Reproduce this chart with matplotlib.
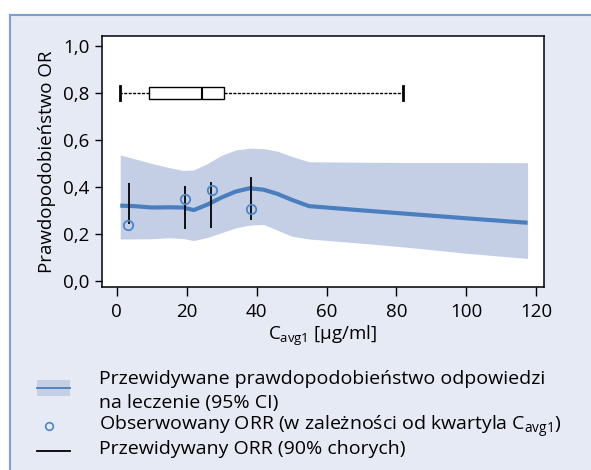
import matplotlib
matplotlib.use("Agg")
import matplotlib.pyplot as plt
from matplotlib.patches import Rectangle
from matplotlib.lines import Line2D
from matplotlib.ticker import FuncFormatter

FONT = "Open Sans"
plt.rcParams['font.family'] = [FONT, 'DejaVu Sans']
plt.rcParams['mathtext.fontset'] = 'custom'
plt.rcParams['mathtext.rm'] = FONT
plt.rcParams['mathtext.it'] = FONT
plt.rcParams['mathtext.bf'] = FONT

# ---- data ----
curve_x = [1, 5, 10, 15, 19, 22, 26, 30, 34, 38, 42, 46, 50, 55, 70, 85, 100, 117.5]
pred = [0.320, 0.318, 0.312, 0.313, 0.312, 0.301, 0.325, 0.355, 0.380, 0.394,
        0.388, 0.370, 0.345, 0.318, 0.300, 0.283, 0.266, 0.247]
upper = [0.536, 0.520, 0.500, 0.482, 0.470, 0.472, 0.500, 0.535, 0.557, 0.565,
         0.563, 0.552, 0.530, 0.507, 0.505, 0.504, 0.504, 0.503]
lower = [0.178, 0.178, 0.179, 0.183, 0.180, 0.171, 0.185, 0.205, 0.225, 0.237,
         0.240, 0.215, 0.190, 0.178, 0.160, 0.140, 0.117, 0.095]

obs_x = [3.2, 19.5, 27.3, 38.3]
obs_y = [0.236, 0.349, 0.385, 0.304]

bar_x = [3.4, 19.4, 27.1, 38.3]
bar_lo = [0.240, 0.219, 0.223, 0.259]
bar_hi = [0.415, 0.403, 0.422, 0.443]

box_stats = dict(whislo=1.0, q1=9.3, med=24.3, q3=30.6, whishi=82.0)
box_pos = 0.8

xticks = [0, 20, 40, 60, 80, 100, 120]
yticks = [0.0, 0.2, 0.4, 0.6, 0.8, 1.0]

legend_labels = [
    "Przewidywane prawdopodobieństwo odpowiedzi",
    "na leczenie (95% CI)",
    r"Obserwowany ORR (w zależności od kwartyla C$_{\mathregular{avg1}}$)",
    "Przewidywany ORR (90% chorych)",
]

# ---- style ----
PANEL = "#e6eaf5"
BORDER = "#7aa0d3"
BAND = "#c4cfe6"
LINE = "#4a7fbf"
CIRC = "#4a86c8"

W, H = 591, 470
fig = plt.figure(figsize=(W / 100, H / 100), dpi=100, facecolor="white")

def fx(px):
    return px / W

def fy(py):
    return 1 - py / H

# panel background
fig.add_artist(Rectangle((fx(10), 0), 1 - fx(10), fy(15), transform=fig.transFigure,
                         facecolor=PANEL, edgecolor="none", zorder=0))
fig.add_artist(Line2D([fx(10), fx(10)], [0, fy(15)], transform=fig.transFigure,
                      color=BORDER, lw=1.5, zorder=1))
fig.add_artist(Line2D([fx(10), 1], [fy(15), fy(15)], transform=fig.transFigure,
                      color=BORDER, lw=1.5, zorder=1))

ax = fig.add_axes([fx(101.7), fy(287.3), fx(544) - fx(101.7), fy(36) - fy(287.3)])
ax.set_facecolor("white")

ax.fill_between(curve_x, lower, upper, color=BAND, lw=0, zorder=1)
ax.plot(curve_x, pred, color=LINE, lw=3, solid_capstyle="butt", zorder=3)
ax.vlines(bar_x, bar_lo, bar_hi, color="black", lw=1.3, zorder=4)
ax.plot(obs_x, obs_y, linestyle="none", marker="o", ms=6.8, mfc="none",
        mec=CIRC, mew=1.3, zorder=5)

bp = ax.bxp([dict(box_stats, fliers=[])], positions=[box_pos], widths=0.055,
            orientation="horizontal", showfliers=False, capwidths=0.06,
            patch_artist=True,
            boxprops=dict(facecolor="white", edgecolor="black", lw=1.0),
            whiskerprops=dict(color="black", lw=1.0, linestyle=(0, (2.2, 1.0))),
            capprops=dict(color="black", lw=2.0),
            medianprops=dict(color="black", lw=1.5))

ax.set_xlim(-4.3, 122.2)
ax.set_ylim(-0.028, 1.043)
ax.set_xticks(xticks)
ax.set_yticks(yticks)
ax.yaxis.set_major_formatter(FuncFormatter(lambda v, p: f"{v:.1f}".replace(".", ",")))
ax.tick_params(axis="x", length=6.5, width=1, pad=5, labelsize=13.5)
ax.tick_params(axis="y", length=4.7, width=1, pad=4, labelsize=13.5)
for s in ax.spines.values():
    s.set_linewidth(1.1)

ax.set_ylabel("Prawdopodobieństwo OR", fontsize=13.5, labelpad=5)
ax.set_xlabel(r"C$_{\mathregular{avg1}}$ [μg/ml]", fontsize=13.5, labelpad=2)

# legend (drawn in figure coordinates)
fig.add_artist(Rectangle((fx(37.3), fy(395.7)), fx(70) - fx(37.3), fy(380) - fy(395.7),
                         transform=fig.transFigure, facecolor=BAND, edgecolor="none"))
fig.add_artist(Line2D([fx(37.3), fx(70)], [fy(387.7), fy(387.7)], transform=fig.transFigure,
                      color=LINE, lw=1.3))
fig.add_artist(Line2D([fx(49.3)], [fy(425.7)], transform=fig.transFigure, marker="o",
                      ms=5.5, mfc="none", mec=CIRC, mew=1.2, linestyle="none"))
fig.add_artist(Line2D([fx(37.3), fx(70)], [fy(450.7), fy(450.7)], transform=fig.transFigure,
                      color="black", lw=1.3))
for lbl, base in zip(legend_labels, [384.3, 408.3, 431.0, 454.3]):
    fig.text(fx(99), fy(base), lbl, fontsize=14, va="baseline", ha="left")

fig.savefig("out.png", dpi=100, facecolor="white")
